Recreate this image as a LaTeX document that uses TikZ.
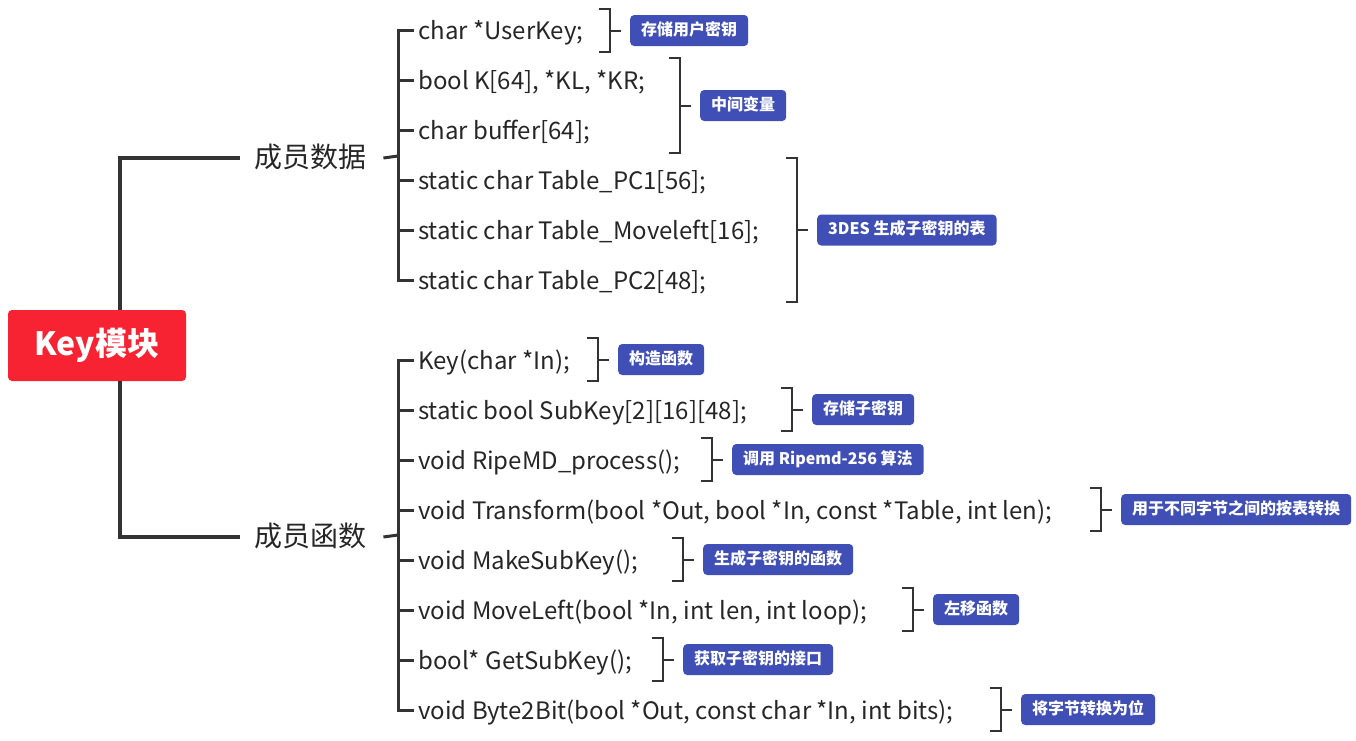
\documentclass[tikz,border=0pt]{standalone}
\usepackage{fontspec}
\setmainfont{Noto Sans CJK SC}
\usetikzlibrary{calc}
\definecolor{lineC}{HTML}{333333}
\definecolor{txtC}{HTML}{262626}
\definecolor{rootC}{HTML}{F72232}
\definecolor{labC}{HTML}{3F4FB5}
\newcommand\mybrace[5]{%
  \draw[brk] (#1-11,#2) -- (#1,#2) -- (#1,#3) -- (#1-11,#3);
  \coordinate (#4-b) at (#1,{(#2+#3)/2});
  \node[lab] (#4) at (#1+20,{(#2+#3)/2}) {#5};
  \draw[brk] (#4-b) -- ++(11,0);
}
\begin{document}
\begin{tikzpicture}[x=1pt,y=-1pt,
  root/.style={fill=rootC, rounded corners=4pt, text=white, font=\bfseries\fontsize{32}{32}\selectfont, minimum width=178pt, minimum height=71pt, inner sep=0},
  cat/.style={font=\fontsize{28}{28}\selectfont, text=txtC, inner sep=0, anchor=west},
  item/.style={font=\fontsize{24}{24}\selectfont, text=txtC, inner sep=0, anchor=west, text height=20.5pt, text depth=2.5pt},
  lab/.style={fill=labC, text=white, rounded corners=4pt, font=\bfseries\fontsize{16}{16}\selectfont, inner xsep=11pt, inner ysep=0pt, minimum height=31pt, anchor=west, text height=12pt, text depth=3pt},
  trunk/.style={draw=lineC, line width=4pt},
  branch/.style={draw=lineC, line width=3pt},
  brk/.style={draw=lineC, line width=2pt}
]
\useasboundingbox (0,0) rectangle (1356,740);
\coordinate (tx) at (120,0);
\coordinate (vx) at (398,0);

\node[cat] (data) at (254,157) {成员数据};
\node[cat] (func) at (254,536) {成员函数};
\node[root] (root) at (97,345.5) {Key模块};
\draw[trunk] ([xshift=-14pt,yshift=-1pt]data.west) -| (tx |- root.north);
\draw[trunk] ([xshift=-14pt,yshift=-1pt]func.west) -| (tx |- root.south);

% data members
\node[item] (d1) at (418,30) {char *UserKey;};
\node[item] (d2) at (418,80) {bool K[64], *KL, *KR;};
\node[item] (d3) at (418,130) {char buffer[64];};
\node[item] (d4) at (418,180) {static char Table\_PC1[56];};
\node[item] (d5) at (418,230) {static char Table\_Moveleft[16];};
\node[item] (d6) at (418,280) {static char Table\_PC2[48];};
\draw[branch] ([xshift=17pt,yshift=-1pt]data.east) -- (vx |- 0,156);
\draw[branch] ([xshift=-4pt]d1.west) -| (vx |- d6.west) -- ([xshift=-4pt]d6.west);
\foreach \n in {d2,d3,d4,d5} \draw[branch] (vx |- \n.west) -- ([xshift=-4pt]\n.west);

% member functions
\node[item] (f1) at (418,360) {Key(char *In);};
\node[item] (f2) at (418,410) {static bool SubKey[2][16][48];};
\node[item] (f3) at (418,460) {void RipeMD\_process();};
\node[item] (f4) at (418,510) {void Transform(bool *Out, bool *In, const *Table, int len);};
\node[item] (f5) at (418,560) {void MakeSubKey();};
\node[item] (f6) at (418,610) {void MoveLeft(bool *In, int len, int loop);};
\node[item] (f7) at (418,660) {bool* GetSubKey();};
\node[item] (f8) at (418,710) {void Byte2Bit(bool *Out, const char *In, int bits);};
\draw[branch] ([xshift=17pt,yshift=-1pt]func.east) -- (vx |- 0,535);
\draw[branch] ([xshift=-4pt]f1.west) -| (vx |- f8.west) -- ([xshift=-4pt]f8.west);
\foreach \n in {f2,f3,f4,f5,f6,f7} \draw[branch] (vx |- \n.west) -- ([xshift=-4pt]\n.west);

% brackets and labels
\mybrace{610}{9}{52}{l1}{存储用户密钥}
\mybrace{680}{58}{153}{l2}{中间变量}
\mybrace{797}{158}{302}{l3}{3DES 生成子密钥的表}
\mybrace{598}{338}{381}{l4}{构造函数}
\mybrace{792}{388}{431}{l5}{存储子密钥}
\mybrace{712}{438}{481}{l6}{调用 Ripemd-256 算法}
\mybrace{1101}{488}{531}{l7}{用于不同字节之间的按表转换}
\mybrace{683}{538}{581}{l8}{生成子密钥的函数}
\mybrace{913}{588}{631}{l9}{左移函数}
\mybrace{663}{638}{681}{l10}{获取子密钥的接口}
\mybrace{1001}{688}{731}{l11}{将字节转换为位}
\end{tikzpicture}
\end{document}
